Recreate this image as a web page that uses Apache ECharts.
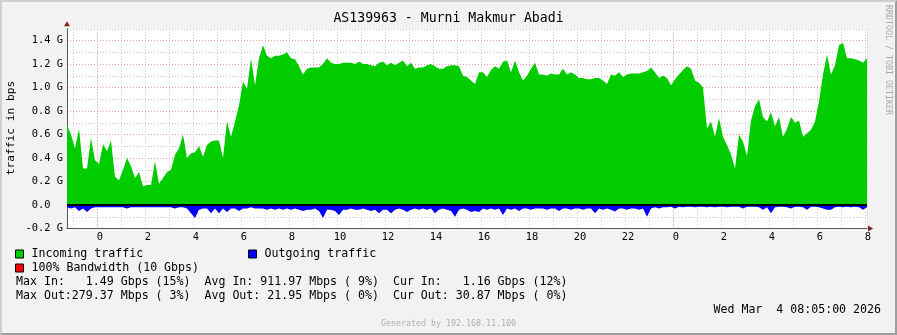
<!DOCTYPE html>
<html><head><meta charset="utf-8">
<script src="https://cdn.jsdelivr.net/npm/echarts@6/dist/echarts.min.js"></script>
<style>
html,body{margin:0;padding:0;background:#f2f2f2;}
#wrap{position:relative;width:897px;height:335px;overflow:hidden;}
#chart{position:absolute;left:0;top:0;width:897px;height:335px;}
#frame{position:absolute;left:0;top:0;width:897px;height:335px;box-sizing:border-box;border-top:2px solid #cfcfcf;border-left:2px solid #cfcfcf;border-right:2px solid #9e9e9e;border-bottom:2px solid #9e9e9e;pointer-events:none;}
</style></head><body>
<div id="wrap"><div id="chart"></div><div id="frame"></div></div>
<script>
// Time base: hours relative to midnight (Mar 3). First sample 22:45 (Mar 2), 10-minute steps.
const startHour = -1.25;
const stepHours = 10 / 60;

// Incoming traffic (Gbps), 10-minute samples
const incoming = [
  0.68,0.60,0.48,0.65,0.31,0.31,0.57,0.38,0.35,0.52,
  0.46,0.55,0.24,0.21,0.30,0.40,0.33,0.23,0.28,0.16,
  0.17,0.17,0.37,0.18,0.23,0.28,0.30,0.43,0.48,0.60,
  0.40,0.44,0.45,0.50,0.41,0.51,0.54,0.55,0.55,0.40,
  0.71,0.58,0.71,0.85,1.05,0.99,1.25,1.02,1.25,1.36,
  1.27,1.25,1.27,1.27,1.28,1.30,1.25,1.24,1.18,1.11,
  1.16,1.17,1.17,1.17,1.20,1.25,1.21,1.20,1.20,1.21,
  1.21,1.21,1.20,1.22,1.20,1.20,1.19,1.18,1.21,1.22,
  1.19,1.21,1.19,1.21,1.23,1.18,1.21,1.16,1.17,1.17,
  1.19,1.20,1.18,1.16,1.16,1.18,1.19,1.19,1.18,1.10,
  1.09,1.06,1.03,1.13,1.13,1.09,1.15,1.18,1.16,1.22,
  1.23,1.13,1.23,1.13,1.06,1.10,1.16,1.21,1.11,1.11,
  1.10,1.12,1.11,1.11,1.16,1.11,1.13,1.11,1.08,1.08,
  1.07,1.07,1.08,1.08,1.06,1.03,1.11,1.10,1.13,1.09,
  1.11,1.12,1.12,1.12,1.13,1.14,1.17,1.13,1.08,1.10,
  1.08,1.02,1.07,1.11,1.15,1.18,1.16,1.06,1.04,1.00,
  0.65,0.71,0.58,0.74,0.58,0.51,0.43,0.31,0.60,0.54,
  0.42,0.72,0.84,0.90,0.75,0.71,0.79,0.67,0.75,0.58,
  0.65,0.75,0.70,0.72,0.58,0.61,0.64,0.71,0.88,1.11,
  1.28,1.11,1.19,1.36,1.38,1.25,1.25,1.24,1.23,1.21,
  1.25
];

// Outgoing traffic (Gbps, drawn negative), 10-minute samples
const outgoing = [
  -0.02,-0.03,-0.02,-0.05,-0.03,-0.06,-0.03,-0.02,-0.02,-0.02,
  -0.02,-0.02,-0.02,-0.02,-0.02,-0.03,-0.02,-0.02,-0.02,-0.02,
  -0.02,-0.02,-0.02,-0.02,-0.02,-0.02,-0.02,-0.03,-0.02,-0.02,
  -0.03,-0.07,-0.11,-0.04,-0.03,-0.03,-0.07,-0.03,-0.07,-0.03,
  -0.06,-0.03,-0.03,-0.05,-0.03,-0.03,-0.02,-0.03,-0.03,-0.03,
  -0.04,-0.03,-0.04,-0.03,-0.04,-0.03,-0.04,-0.03,-0.04,-0.05,
  -0.04,-0.04,-0.03,-0.05,-0.11,-0.04,-0.04,-0.05,-0.085,-0.04,
  -0.04,-0.03,-0.04,-0.04,-0.03,-0.04,-0.05,-0.04,-0.07,-0.04,
  -0.04,-0.07,-0.04,-0.03,-0.04,-0.06,-0.04,-0.03,-0.04,-0.03,
  -0.04,-0.03,-0.07,-0.04,-0.03,-0.04,-0.05,-0.10,-0.04,-0.03,
  -0.04,-0.06,-0.05,-0.06,-0.03,-0.04,-0.03,-0.04,-0.03,-0.085,
  -0.03,-0.04,-0.03,-0.05,-0.03,-0.03,-0.04,-0.03,-0.03,-0.03,
  -0.04,-0.03,-0.03,-0.05,-0.03,-0.03,-0.04,-0.03,-0.03,-0.04,
  -0.03,-0.03,-0.07,-0.03,-0.04,-0.03,-0.04,-0.055,-0.03,-0.03,
  -0.04,-0.03,-0.03,-0.04,-0.03,-0.10,-0.03,-0.02,-0.03,-0.02,
  -0.02,-0.015,-0.03,-0.015,-0.02,-0.015,-0.015,-0.02,-0.015,-0.015,
  -0.02,-0.015,-0.02,-0.015,-0.015,-0.02,-0.015,-0.015,-0.015,-0.03,
  -0.015,-0.015,-0.015,-0.02,-0.04,-0.02,-0.07,-0.02,-0.015,-0.015,
  -0.02,-0.03,-0.015,-0.015,-0.02,-0.04,-0.015,-0.015,-0.02,-0.03,
  -0.04,-0.04,-0.02,-0.015,-0.02,-0.015,-0.02,-0.015,-0.02,-0.04,
  -0.02
];

// Axis tick labels
const xLabelHours = [0,2,4,6,8,10,12,14,16,18,20,22,24,26,28,30,32];
const xLabelTexts = ['0','2','4','6','8','10','12','14','16','18','20','22','0','2','4','6','8'];
const yLabelValues = [-0.2,0,0.2,0.4,0.6,0.8,1.0,1.2,1.4];
const yLabelTexts = ['-0.2 G',' 0.0  ',' 0.2 G',' 0.4 G',' 0.6 G',' 0.8 G',' 1.0 G',' 1.2 G',' 1.4 G'];
const midnightHours = [0, 24];

// Texts
const chartTitle = 'AS139963 - Murni Makmur Abadi';
const yAxisTitle = 'traffic in bps';
const seriesNames = ['Incoming traffic', 'Outgoing traffic', '100% Bandwidth (10 Gbps)'];
const statsLines = [
  'Max In:   1.49 Gbps (15%)  Avg In: 911.97 Mbps ( 9%)  Cur In:   1.16 Gbps (12%)',
  'Max Out:279.37 Mbps ( 3%)  Avg Out: 21.95 Mbps ( 0%)  Cur Out: 30.87 Mbps ( 0%)'
];
const dateText = 'Wed Mar  4 08:05:00 2026';
const watermark = 'RRDTOOL / TOBI OETIKER';
const generatedText = 'Generated by 192.168.11.100';

const MONO = '"DejaVu Sans Mono", monospace';
const xMin = startHour;
const xMax = startHour + (incoming.length - 1) * stepHours;
const toPairs = arr => arr.map((v, i) => [startHour + i * stepHours, v]);

function findLabel(values, texts, v) {
  for (let i = 0; i < values.length; i++) if (Math.abs(values[i] - v) < 1e-6) return texts[i];
  return '';
}

const gridGray = '#c8c8c8';
const gridRed = '#eea0a0';
const dotted = [1, 2];

const legendCommon = {
  orient: 'horizontal', icon: 'rect', itemWidth: 8, itemHeight: 8, itemGap: 0, padding: 0,
  selectedMode: false,
  itemStyle: { borderColor: '#000', borderWidth: 1 },
  textStyle: { fontFamily: MONO, fontSize: 11.6, color: '#000', padding: [0, 0, 0, 3] }
};

const chart = echarts.init(document.getElementById('chart'), null, { renderer: 'canvas' });
chart.setOption({
  animation: false,
  backgroundColor: '#f2f2f2',
  title: {
    text: chartTitle, left: 'center', top: 12, padding: 0,
    textStyle: { fontFamily: MONO, fontSize: 13.2, fontWeight: 'normal', color: '#000' }
  },
  grid: {
    left: 67, right: 30, top: 28.75, bottom: 106.5,
    show: true, backgroundColor: '#ffffff', borderWidth: 0,
    containLabel: false, outerBoundsMode: 'none'
  },
  legend: [
    Object.assign({ data: [seriesNames[0]], left: 15, top: 248 }, legendCommon),
    Object.assign({ data: [seriesNames[1]], left: 248, top: 248 }, legendCommon),
    Object.assign({ data: [seriesNames[2]], left: 15, top: 262 }, legendCommon)
  ],
  xAxis: [{
    type: 'value', min: xMin, max: xMax, minInterval: 2, maxInterval: 2, splitNumber: 16,
    axisLine: { show: true, onZero: false, lineStyle: { color: '#555', width: 1 } },
    axisTick: { show: false },
    axisLabel: {
      show: true, margin: 4, fontFamily: MONO, fontSize: 10.4, color: '#000',
      padding: [0, 0, 0, 6],
      showMinLabel: true, showMaxLabel: true,
      formatter: v => findLabel(xLabelHours, xLabelTexts, v)
    },
    splitLine: { show: true, lineStyle: { color: gridGray, type: dotted, width: 1 } },
    minorTick: { show: false, splitNumber: 2 },
    minorSplitLine: { show: true, lineStyle: { color: gridGray, type: dotted, width: 1 } }
  }, {
    type: 'value', min: xMin, max: xMax, position: 'bottom', offset: 0,
    axisLine: { show: true, onZero: false, lineStyle: { color: '#802020', width: 0 },
      symbol: ['none', 'triangle'], symbolSize: [6, 5], symbolOffset: [0, 3.5] },
    axisTick: { show: false }, axisLabel: { show: false }, splitLine: { show: false }
  }],
  yAxis: [{
    type: 'value', min: -0.2, max: 1.5, interval: 0.1,
    axisLine: { show: true, onZero: false, lineStyle: { color: '#555', width: 1 } },
    axisTick: { show: false },
    axisLabel: {
      show: true, margin: 4, fontFamily: MONO, fontSize: 10.4, color: '#000',
      showMinLabel: true, showMaxLabel: true,
      formatter: v => findLabel(yLabelValues, yLabelTexts, v)
    },
    splitLine: { show: true, lineStyle: { color: [gridRed, gridGray], type: dotted, width: 1 } }
  }, {
    type: 'value', min: -0.2, max: 1.5, position: 'left', offset: 0,
    axisLine: { show: true, onZero: false, lineStyle: { color: '#802020', width: 0 },
      symbol: ['none', 'triangle'], symbolSize: [6, 5], symbolOffset: [0, 5] },
    axisTick: { show: false }, axisLabel: { show: false }, splitLine: { show: false }
  }],
  series: [
    {
      name: seriesNames[2], type: 'line', data: [], z: 1,
      itemStyle: { color: '#ff0000' }, lineStyle: { color: '#ff0000' }, symbol: 'none', silent: true,
      markLine: {
        silent: true, z: 1, symbol: ['none', 'none'], label: { show: false },
        lineStyle: { color: gridRed, type: dotted, width: 1 },
        emphasis: { disabled: true },
        data: midnightHours.map(h => ({ xAxis: h }))
      }
    },
    {
      name: seriesNames[0], type: 'line', data: toPairs(incoming), z: 3,
      symbol: 'none', silent: true, smooth: false,
      itemStyle: { color: '#00cc00' },
      lineStyle: { width: 0, color: '#00cc00' },
      areaStyle: { color: '#00cc00', opacity: 1 }
    },
    {
      name: seriesNames[1], type: 'line', data: toPairs(outgoing), z: 3,
      symbol: 'none', silent: true,
      itemStyle: { color: '#0000ff' },
      lineStyle: { width: 0, color: '#0000ff' },
      areaStyle: { color: '#0000ff', opacity: 1 },
      markLine: {
        silent: true, symbol: ['none', 'none'], label: { show: false },
        lineStyle: { color: '#000000', type: 'solid', width: 2 },
        emphasis: { disabled: true },
        data: [{ yAxis: 0 }]
      }
    }
  ],
  graphic: [
    { type: 'text', x: 11, y: 128, rotation: Math.PI / 2,
      style: { text: yAxisTitle, font: '11.2px ' + MONO, fill: '#000', align: 'center', verticalAlign: 'middle' } },
    { type: 'text', x: 888, y: 60, rotation: -Math.PI / 2,
      style: { text: watermark, font: '8.3px ' + MONO, fill: '#aaaaaa', align: 'center', verticalAlign: 'middle' } },
    { type: 'text', x: 16, y: 282.3,
      style: { text: statsLines[0], font: '11.6px ' + MONO, fill: '#000', align: 'left', verticalAlign: 'middle' } },
    { type: 'text', x: 16, y: 296,
      style: { text: statsLines[1], font: '11.6px ' + MONO, fill: '#000', align: 'left', verticalAlign: 'middle' } },
    { type: 'text', x: 881, y: 309.5,
      style: { text: dateText, font: '11.6px ' + MONO, fill: '#000', align: 'right', verticalAlign: 'middle' } },
    { type: 'text', x: 448.5, y: 324,
      style: { text: generatedText, font: '8.3px ' + MONO, fill: '#b0b0b0', align: 'center', verticalAlign: 'middle' } }
  ]
});
</script>
</body></html>
